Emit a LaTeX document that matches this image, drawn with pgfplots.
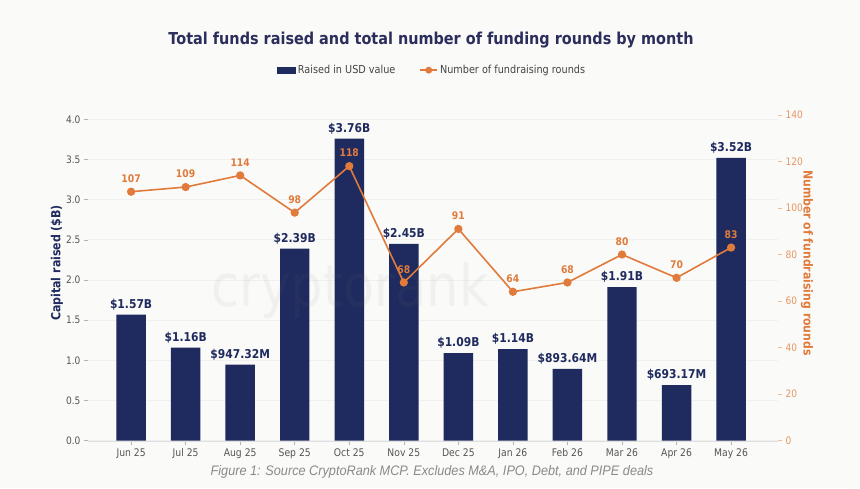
\documentclass[border=0pt]{standalone}
\usepackage{fontspec}
\setmainfont{DejaVu Sans}[FakeStretch=0.88]
\newfontfamily\capfont{Liberation Sans}[FakeStretch=0.92]
\usepackage{pgfplots}
\pgfplotsset{compat=1.18}
\definecolor{navy}{HTML}{1F2A5E}
\definecolor{orng}{HTML}{E07B3C}
\definecolor{bgc}{HTML}{FAFAF8}
\definecolor{titlec}{HTML}{2B2D5C}
\definecolor{tickg}{HTML}{555555}
\definecolor{capg}{HTML}{8A8A8A}
\begin{document}
\begin{tikzpicture}
\fill[bgc] (0pt,0pt) rectangle (860pt,488pt);
\node[font=\bfseries\fontsize{16.4}{19}\selectfont, text=titlec] at (431pt,448pt) {Total funds raised and total number of funding rounds by month};
\node[font=\capfont\itshape\fontsize{13.8}{16}\selectfont, text=capg] at (432pt,16pt) {Figure 1: Source CryptoRank MCP. Excludes M\&A, IPO, Debt, and PIPE deals};
\begin{axis}[
  at={(88pt,47.3pt)}, anchor=south west,
  width=690pt, height=332.3pt, scale only axis,
  xmin=-0.79, xmax=11.86, ymin=0, ymax=4.136,
  axis x line*=bottom, axis y line*=left,
  x axis line style={draw=gray!25, -},
  y axis line style={draw=none},
  xtick={0,...,11},
  xticklabels={Jun 25,Jul 25,Aug 25,Sep 25,Oct 25,Nov 25,Dec 25,Jan 26,Feb 26,Mar 26,Apr 26,May 26},
  ytick={0,0.5,...,4},
  tick align=outside, major tick length=4pt,
  tick style={color=gray!60, line width=0.6pt},
  /pgf/number format/assume math mode=true,
  yticklabel style={/pgf/number format/fixed, /pgf/number format/fixed zerofill, /pgf/number format/precision=1, font=\fontsize{10.3}{12}\selectfont, text=tickg},
  xticklabel style={font=\fontsize{10.5}{12}\selectfont, text=tickg},
  ymajorgrids, grid style={color=gray!12, line width=0.8pt},
  ylabel={\bfseries Capital raised (\$B)},
  ylabel style={at={(axis description cs:-0.045,0.535)}, anchor=center, font=\fontsize{12.5}{14}\selectfont, text=navy},
  legend style={at={(0.4986,1.115)}, anchor=center, legend columns=2, draw=none, fill=none,
    font=\fontsize{11}{13}\selectfont, text=tickg!80!black,
    /tikz/every even column/.append style={column sep=22pt}},
]
\addplot[ybar, bar width=0.54, fill=navy, draw=none,
  legend image code/.code={\fill[navy] (0pt,-3.5pt) rectangle (19pt,3.5pt);},
  point meta=explicit symbolic,
  nodes near coords,
  nodes near coords style={font=\bfseries\fontsize{12.2}{14}\selectfont, text=navy, anchor=south, yshift=1pt}]
coordinates {
(0,1.57) [\$1.57B]
(1,1.16) [\$1.16B]
(2,0.94732) [\$947.32M]
(3,2.39) [\$2.39B]
(4,3.76) [\$3.76B]
(5,2.45) [\$2.45B]
(6,1.09) [\$1.09B]
(7,1.14) [\$1.14B]
(8,0.89364) [\$893.64M]
(9,1.91) [\$1.91B]
(10,0.69317) [\$693.17M]
(11,3.52) [\$3.52B]
};
\addlegendentry{Raised in USD value}
\addlegendimage{line legend, orng, line width=1.6pt, mark=*, mark size=2.6pt}
\addlegendentry{Number of fundraising rounds}
\end{axis}
\node[font=\fontsize{58}{60}\selectfont, text=gray, opacity=0.08] at (350pt,198pt) {cryptorank};
\begin{axis}[
  at={(88pt,47.3pt)}, anchor=south west,
  width=690pt, height=332.3pt, scale only axis,
  xmin=-0.79, xmax=11.86, ymin=0, ymax=142.8,
  axis x line=none, axis y line*=right,
  y axis line style={draw=none},
  ytick={0,20,...,140},
  tick align=outside, major tick length=4pt,
  tick style={color=orng!50, line width=0.6pt},
  /pgf/number format/assume math mode=true,
  yticklabel style={font=\fontsize{10.3}{12}\selectfont, text=orng!80!white},
  ylabel={\bfseries Number of fundraising rounds},
  ylabel style={at={(axis description cs:1.042,0.535)}, anchor=center, rotate=180, font=\fontsize{12.4}{14}\selectfont, text=orng},
]
\addplot[orng, line width=1.6pt, mark=*, mark size=3.3pt,
  point meta=explicit symbolic, nodes near coords,
  nodes near coords style={font=\bfseries\fontsize{10.5}{12}\selectfont, text=orng, anchor=south, yshift=5pt}]
coordinates {
(0,107) [107]
(1,109) [109]
(2,114) [114]
(3,98) [98]
(4,118) [118]
(5,68) [68]
(6,91) [91]
(7,64) [64]
(8,68) [68]
(9,80) [80]
(10,70) [70]
(11,83) [83]
};
\end{axis}
\end{tikzpicture}
\end{document}
